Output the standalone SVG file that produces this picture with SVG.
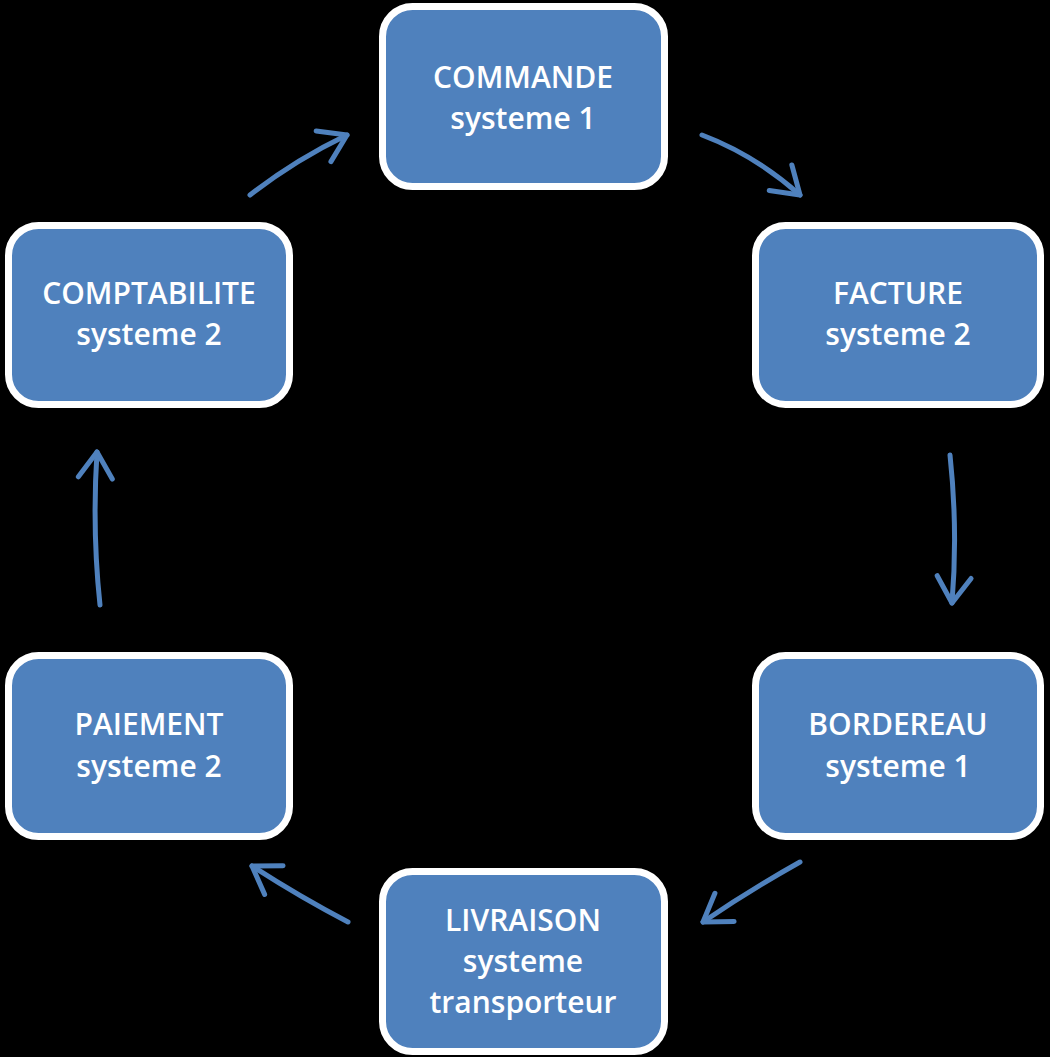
<svg xmlns="http://www.w3.org/2000/svg" width="1050" height="1057" viewBox="0 0 1050 1057">
<style>
.box{fill:#4F81BD;stroke:#FFFFFF;stroke-width:7}
.lbl{fill:#FFFFFF;font-family:"Open Sans","Noto Sans",sans-serif;font-size:30px;font-weight:600;text-anchor:middle}
.arr{fill:none;stroke:#4F81BD;stroke-width:5;stroke-linecap:round;marker-end:url(#head)}
</style>
<defs>
<marker id="head" viewBox="0 0 44 44" refX="34" refY="22" markerWidth="44" markerHeight="44" markerUnits="userSpaceOnUse" orient="auto">
<path d="M8,5 L34,22 L8,39" fill="none" stroke="#4F81BD" stroke-width="5" stroke-linecap="round" stroke-linejoin="round"/>
</marker>
</defs>
<rect width="1050" height="1057" fill="#000000"/>
<g id="connectors">
<path class="arr" d="M250,195 Q295,160 347,135"/>
<path class="arr" d="M702,135 Q755,155 800,195"/>
<path class="arr" d="M950,455 Q958,530 952,603"/>
<path class="arr" d="M800,862 Q750,890 703,922"/>
<path class="arr" d="M348,922 Q300,897 252,866"/>
<path class="arr" d="M100,605 Q92,530 97,452"/>
</g>
<g id="commande">
<rect class="box" x="382.5" y="6.5" width="282" height="180" rx="30"/>
<text class="lbl" x="523" y="88">COMMANDE</text>
<text class="lbl" x="523" y="129">systeme 1</text>
</g>
<g id="facture">
<rect class="box" x="755.5" y="225.5" width="285" height="179" rx="30"/>
<text class="lbl" x="898" y="304">FACTURE</text>
<text class="lbl" x="898" y="345">systeme 2</text>
</g>
<g id="bordereau">
<rect class="box" x="755.5" y="655.5" width="285" height="181" rx="30"/>
<text class="lbl" x="898" y="735">BORDEREAU</text>
<text class="lbl" x="898" y="777">systeme 1</text>
</g>
<g id="livraison">
<rect class="box" x="382.5" y="871.5" width="282" height="180" rx="30"/>
<text class="lbl" x="523" y="931">LIVRAISON</text>
<text class="lbl" x="523" y="972">systeme</text>
<text class="lbl" x="523" y="1013">transporteur</text>
</g>
<g id="paiement">
<rect class="box" x="8.5" y="655.5" width="281" height="181" rx="30"/>
<text class="lbl" x="149" y="735">PAIEMENT</text>
<text class="lbl" x="149" y="777">systeme 2</text>
</g>
<g id="comptabilite">
<rect class="box" x="8.5" y="225.5" width="281" height="179" rx="30"/>
<text class="lbl" x="149" y="304">COMPTABILITE</text>
<text class="lbl" x="149" y="345">systeme 2</text>
</g>
</svg>
